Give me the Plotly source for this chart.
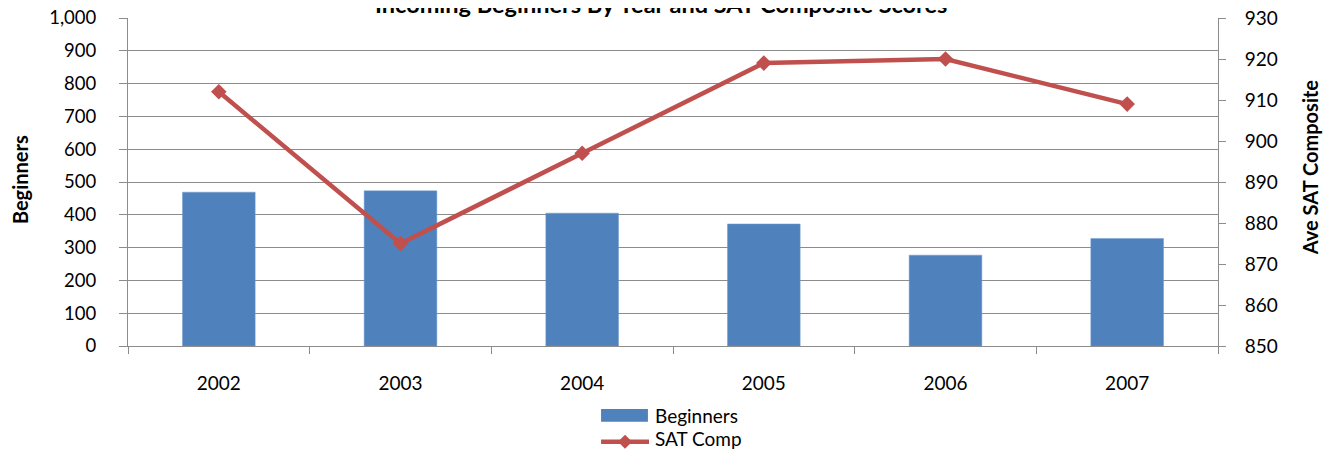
import plotly.graph_objects as go

years = ["2002", "2003", "2004", "2005", "2006", "2007"]
beginners = [469, 473, 405, 372, 277, 328]
sat_comp = [912, 875, 897, 919, 920, 909]

left_ticks = [0, 100, 200, 300, 400, 500, 600, 700, 800, 900, 1000]
right_ticks = [850, 860, 870, 880, 890, 900, 910, 920, 930]

FONT = "Lato"
GRAY = "#8c8c8c"
BAR_C = "#4F81BD"
LINE_C = "#C0504D"

fig = go.Figure()
fig.add_trace(go.Bar(
    x=years, y=beginners, name="Beginners",
    marker=dict(color=BAR_C, line=dict(color="#6f9bd1", width=0.5)),
    yaxis="y", showlegend=False,
))
fig.add_trace(go.Scatter(
    x=years, y=sat_comp, name="SAT Comp", mode="lines+markers",
    line=dict(color=LINE_C, width=4.5),
    marker=dict(symbol="diamond", size=12, color=LINE_C),
    yaxis="y2", showlegend=False,
))

# manual legend (wide rectangle symbol like the reference)
shapes = [
    dict(type="rect", xref="paper", yref="paper", x0=0.434, x1=0.477, y0=-0.231, y1=-0.192,
         fillcolor=BAR_C, line=dict(width=0)),
    dict(type="line", xref="paper", yref="paper", x0=0.434, x1=0.478, y0=-0.292, y1=-0.292,
         line=dict(color=LINE_C, width=4.5)),
    dict(type="path", xref="paper", yref="paper",
         path="M 0.4495 -0.292 L 0.456 -0.2707 L 0.4625 -0.292 L 0.456 -0.3133 Z",
         fillcolor=LINE_C, line=dict(width=0)),
]
annotations = [
    dict(text="Beginners", xref="paper", yref="paper", x=0.4817, y=-0.213,
         xanchor="left", yanchor="middle", showarrow=False, font=dict(family=FONT, size=19)),
    dict(text="SAT Comp", xref="paper", yref="paper", x=0.4817, y=-0.283,
         xanchor="left", yanchor="middle", showarrow=False, font=dict(family=FONT, size=19)),
    dict(text="<b>Incoming Beginners By Year and SAT Composite Scores</b>", xref="paper", yref="paper",
         x=0.489, y=1.043, xanchor="center", yanchor="middle", showarrow=False,
         font=dict(family=FONT, size=23.5)),
    dict(text="<b>Beginners</b>", xref="paper", yref="paper", x=-0.099, y=0.506,
         xanchor="center", yanchor="middle", textangle=-90, showarrow=False,
         font=dict(family=FONT, size=20)),
    dict(text="<b>Ave SAT Composite</b>", xref="paper", yref="paper", x=1.0844, y=0.545,
         xanchor="center", yanchor="middle", textangle=-90, showarrow=False,
         font=dict(family=FONT, size=20)),
]

# the page body adds an 8px offset, so margins are shifted accordingly
fig.update_layout(
    width=1331, height=449,
    margin=dict(l=120, r=121, t=10, b=111, autoexpand=False),
    paper_bgcolor="white", plot_bgcolor="white",
    font=dict(family=FONT, size=19, color="#000000"),
    bargap=0.6,
    shapes=shapes, annotations=annotations,
    xaxis=dict(
        type="category", showline=True, linecolor=GRAY, linewidth=1,
        ticks="outside", tickson="boundaries", ticklen=7, tickcolor=GRAY,
        showgrid=False, ticklabelstandoff=20, automargin=False,
        tickfont=dict(family=FONT, size=19),
    ),
    yaxis=dict(
        range=[0, 1000], tickvals=left_ticks, tickformat=",",
        showline=True, linecolor=GRAY, linewidth=1,
        ticks="outside", ticklen=8, tickcolor=GRAY, automargin=False,
        showgrid=True, gridcolor=GRAY, gridwidth=1, zeroline=False,
        ticklabelstandoff=19, ticklabeloverflow="allow",
        tickfont=dict(family=FONT, size=18.5),
    ),
    yaxis2=dict(
        range=[850, 930], tickvals=right_ticks, overlaying="y", side="right",
        showline=True, linecolor=GRAY, linewidth=1, automargin=False,
        ticks="outside", ticklen=7, tickcolor=GRAY,
        showgrid=False, zeroline=False, ticklabelstandoff=15, ticklabeloverflow="allow",
        tickfont=dict(family=FONT, size=19),
    ),
    showlegend=False,
)

fig.write_html("out.html")
